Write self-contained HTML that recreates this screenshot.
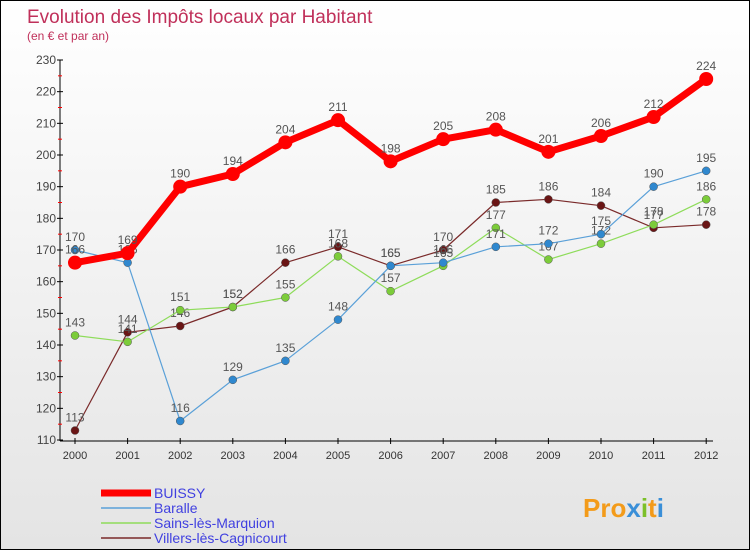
<!DOCTYPE html>
<html><head><meta charset="utf-8"><style>
body{margin:0}
#c{width:748px;height:548px;border:1px solid #000;background:linear-gradient(#fff,#e4e4e4);position:relative;font-family:"Liberation Sans",sans-serif;overflow:hidden}
</style></head><body>
<div id="c">
<svg id="s" width="748" height="548"></svg>
</div>
<script>
const years=["2000","2001","2002","2003","2004","2005","2006","2007","2008","2009","2010","2011","2012"];
const buissy=[166,169,190,194,204,211,198,205,208,201,206,212,224];
const baralle=[170,166,116,129,135,148,165,166,171,172,175,190,195];
const sains=[143,141,151,152,155,168,157,165,177,167,172,178,186];
const villers=[113,144,146,152,166,171,165,170,185,186,184,177,178];
const yTicks=[110,120,130,140,150,160,170,180,190,200,210,220,230];
const seriesNames=["BUISSY","Baralle","Sains-lès-Marquion","Villers-lès-Cagnicourt"];
const NS="http://www.w3.org/2000/svg";
const s=document.getElementById('s');
function el(t,a,p){const e=document.createElementNS(NS,t);for(const k in a)e.setAttribute(k,a[k]);(p||s).appendChild(e);return e;}
const x=i=>74+i*52.6;
const y=v=>59+(230-v)*(380/120);
function txt(str,a,name){const t=el('text',a);t.textContent=str;return t;}
txt("Evolution des Impôts locaux par Habitant",{x:26,y:22,'font-size':19,fill:'#c0305a'},'chart-title');
txt("(en € et par an)",{x:26,y:39,'font-size':12,fill:'#c0305a'},'chart-subtitle');
let ax=el('line',{x1:59,y1:59,x2:59,y2:440,stroke:'#000'});
let bx=el('line',{x1:59,y1:440,x2:712,y2:440,stroke:'#000'});
yTicks.forEach(v=>{el('line',{x1:56,y1:y(v),x2:62,y2:y(v),stroke:'#000'});
 if(v<230)el('line',{x1:57,y1:y(v+5),x2:61,y2:y(v+5),stroke:'#f00'});
 txt(String(v),{x:55,y:y(v)+4,'text-anchor':'end','font-size':12,fill:'#444'},'y-tick-label');});
years.forEach((yr,i)=>{el('line',{x1:x(i),y1:437,x2:x(i),y2:443,stroke:'#000'});
 txt(yr,{x:x(i),y:458,'text-anchor':'middle','font-size':11,fill:'#333'},'x-tick-label');});
function series(d,color,w,r,name,dot){
 const g=el('g',{});
 el('polyline',{points:d.map((v,i)=>x(i)+','+y(v)).join(' '),fill:'none',stroke:color,'stroke-width':w,'stroke-linejoin':'round'},g);
 d.forEach((v,i)=>{const c=el('circle',{cx:x(i),cy:y(v),r:r,fill:dot||color,stroke:'#555','stroke-width':r>5?0:0.5},g);
  
  const t=el('text',{x:x(i),y:y(v)-9,'text-anchor':'middle','font-size':12,fill:'#555'},g);t.textContent=v;
  });
}
series(villers,'#7a2a2a',1.2,4,'villers','#6a1515');
series(sains,'#8edc5a',1.2,4,'sains','#7ccc3a');
series(baralle,'#5aa0d8',1.2,4,'baralle','#2f88cf');
series(buissy,'#f00',7,7,'buissy','#f00');
const lc=['#f00','#5aa0d8','#8edc5a','#7a2a2a'],lw=[7,1.5,1.5,1.5];
seriesNames.forEach((n,i)=>{const ly=492+i*15;
 const l=el('line',{x1:100,y1:ly,x2:150,y2:ly,stroke:lc[i],'stroke-width':lw[i]});
 txt(n,{x:153,y:ly+5,'font-size':14,fill:'#4040e0'},'legend-entry');});
const lg=txt("",{x:582,y:516,'font-size':26,'font-weight':'bold'},'proxiti-logo');
[["Pro","#f39b1a"],["x","#3a8fd8"],["i","#7cc02a"],["t","#f39b1a"],["i","#3a8fd8"]].forEach(p=>{const ts=el('tspan',{fill:p[1]},lg);ts.textContent=p[0];});
</script>
</body></html>
